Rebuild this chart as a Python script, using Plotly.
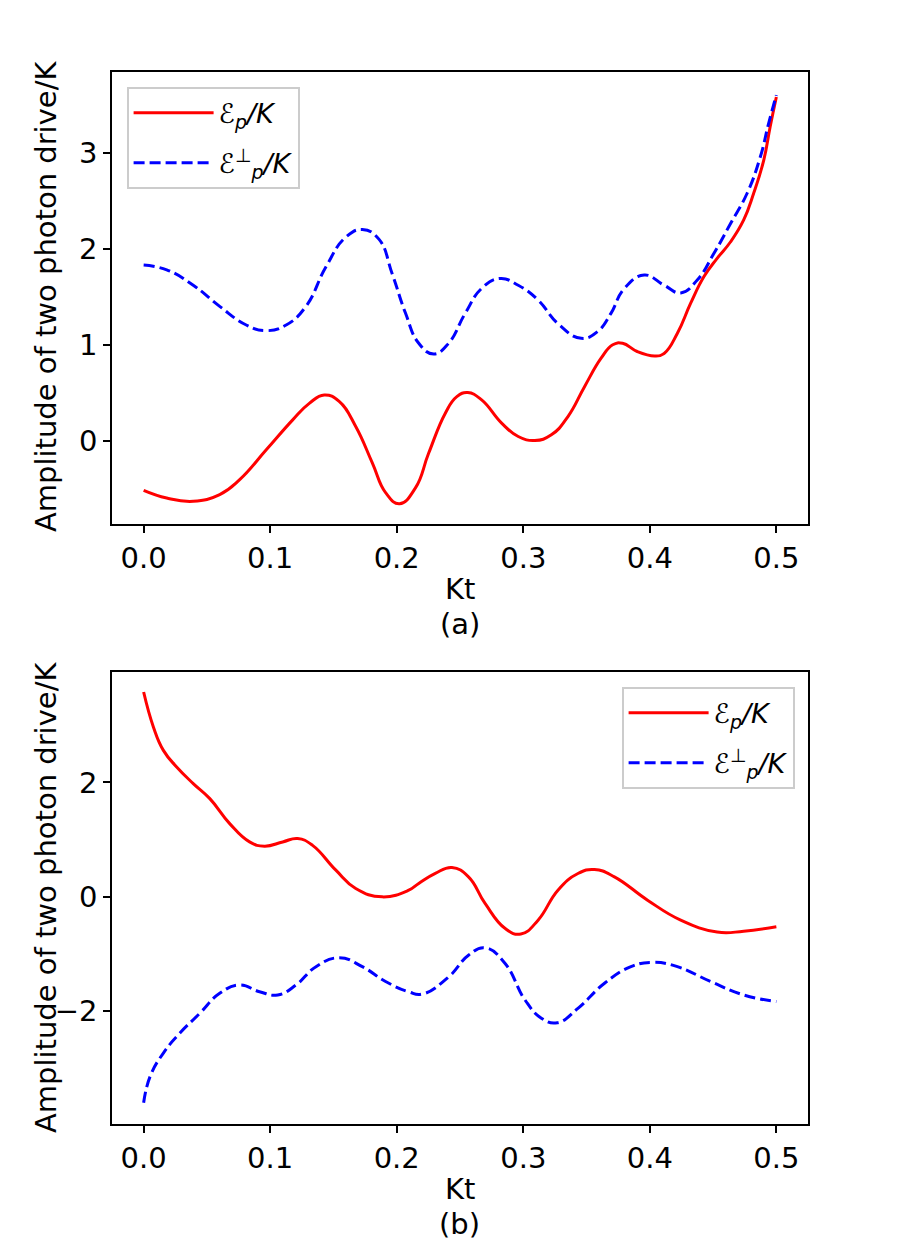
import plotly.graph_objects as go

# ---------------- data ----------------
t_a_red = [0.000, 0.0182, 0.0392, 0.0601, 0.0759, 0.0969, 0.1178, 0.1309, 0.1427, 0.1545,
           0.1676, 0.1807, 0.1912, 0.2022, 0.2148, 0.2252, 0.2384, 0.2475, 0.2561, 0.2671,
           0.2829, 0.296, 0.3091, 0.3222, 0.3353, 0.3484, 0.3615, 0.3707, 0.3785, 0.390,
           0.4039, 0.4113, 0.4218, 0.4322, 0.4428, 0.4532, 0.4637, 0.4742, 0.482, 0.490,
           0.4951, 0.500]
a_red = [-0.516, -0.596, -0.63, -0.56, -0.405, -0.094, 0.218, 0.39, 0.478, 0.41,
         0.149, -0.23, -0.54, -0.655, -0.49, -0.13, 0.288, 0.46, 0.502, 0.426,
         0.184, 0.045, 0.003, 0.062, 0.253, 0.564, 0.86, 1.0, 1.015, 0.93,
         0.884, 0.91, 1.12, 1.43, 1.71, 1.90, 2.07, 2.30, 2.575, 2.92,
         3.27, 3.58]

t_a_blue = [0.000, 0.0182, 0.0392, 0.0601, 0.0811, 0.0969, 0.1126, 0.1283, 0.144, 0.1597,
            0.1728, 0.1859, 0.1964, 0.2069, 0.2174, 0.2292, 0.241, 0.2541, 0.2671, 0.2816,
            0.296, 0.3117, 0.3274, 0.3458, 0.3589, 0.3693, 0.3795, 0.3956, 0.4113, 0.4244,
            0.4375, 0.4506, 0.4637, 0.4768, 0.4873, 0.4938, 0.500]
a_blue = [1.83, 1.78, 1.62, 1.40, 1.206, 1.147, 1.206, 1.40, 1.81, 2.12,
          2.20, 2.10, 1.74, 1.33, 1.016, 0.904, 1.016, 1.327, 1.587, 1.69,
          1.62, 1.466, 1.22, 1.067, 1.14, 1.327, 1.58, 1.726, 1.62, 1.54,
          1.674, 1.95, 2.26, 2.575, 2.955, 3.30, 3.60]

t_b_red = [0.000, 0.0077, 0.0156, 0.0261, 0.0392, 0.0523, 0.068, 0.0837, 0.0955, 0.1099,
           0.1217, 0.1335, 0.1519, 0.1676, 0.1885, 0.2095, 0.2174, 0.2305, 0.2436, 0.2567,
           0.2698, 0.2855, 0.2981, 0.3117, 0.3274, 0.3432, 0.3563, 0.372, 0.3982, 0.4244,
           0.4532, 0.4742, 0.500]
b_red = [3.58, 2.97, 2.56, 2.27, 1.98, 1.717, 1.28, 0.96, 0.885, 0.96,
         1.02, 0.90, 0.466, 0.147, 0.0, 0.117, 0.234, 0.41, 0.513, 0.35,
         -0.116, -0.55, -0.651, -0.407, 0.117, 0.408, 0.478, 0.35, -0.058, -0.407,
         -0.616, -0.60, -0.524]

t_b_blue = [0.000, 0.0051, 0.0156, 0.0287, 0.0444, 0.0601, 0.0759, 0.0916, 0.106, 0.1204,
            0.1362, 0.1545, 0.1728, 0.1912, 0.2095, 0.220, 0.241, 0.2567, 0.2698, 0.2855,
            0.3013, 0.3143, 0.3269, 0.3432, 0.3642, 0.3851, 0.4021, 0.4218, 0.448, 0.4742,
            0.500]
b_blue = [-3.60, -3.14, -2.73, -2.38, -2.035, -1.686, -1.54, -1.658, -1.715, -1.54,
          -1.22, -1.065, -1.22, -1.48, -1.66, -1.70, -1.40, -1.02, -0.89, -1.16,
          -1.80, -2.12, -2.20, -1.95, -1.51, -1.22, -1.145, -1.22, -1.48, -1.715,
          -1.83]

x_ticks = [0.0, 0.1, 0.2, 0.3, 0.4, 0.5]
x_ticklabels = ["0.0", "0.1", "0.2", "0.3", "0.4", "0.5"]
ya_ticks = [0, 1, 2, 3]
ya_ticklabels = ["0", "1", "2", "3"]
yb_ticks = [-2, 0, 2]
yb_ticklabels = ["\u22122", "0", "2"]

label_red = "<i>\u2130<sub>p</sub>/K</i>"
label_blue = "<i>\u2130<sup>\u22a5</sup><sub>p</sub>/K</i>"
ytitle = "Amplitude of two photon drive/K"
xtitle = "Kt"

# ---------------- figure ----------------
W, H = 900, 1250
FONT = "DejaVu Sans"
FS = 29
LFS = 27
RED = "#ff0000"
BLUE = "#0000ff"
LW = 3
DASH = "11px,5px"
SPL = dict(shape="spline", smoothing=1.3)

fig = go.Figure()
fig.add_trace(go.Scatter(x=t_a_red, y=a_red, mode="lines", name=label_red,
                         line=dict(color=RED, width=LW, **SPL), legendgroup="r1",
                         xaxis="x", yaxis="y", legend="legend"))
fig.add_trace(go.Scatter(x=t_a_blue, y=a_blue, mode="lines", name=label_blue,
                         line=dict(color=BLUE, width=LW, dash=DASH, **SPL), legendgroup="b1",
                         xaxis="x", yaxis="y", legend="legend"))
fig.add_trace(go.Scatter(x=t_b_red, y=b_red, mode="lines", name=label_red,
                         line=dict(color=RED, width=LW, **SPL), legendgroup="r2",
                         xaxis="x2", yaxis="y2", legend="legend2"))
fig.add_trace(go.Scatter(x=t_b_blue, y=b_blue, mode="lines", name=label_blue,
                         line=dict(color=BLUE, width=LW, dash=DASH, **SPL), legendgroup="b2",
                         xaxis="x2", yaxis="y2", legend="legend2"))

xdom = [112 / W, 808 / W]
ydom_a = [1 - 524 / H, 1 - 72 / H]
ydom_b = [1 - 1124 / H, 1 - 672 / H]

axis_common = dict(showline=True, linecolor="black", linewidth=1.6, mirror=True,
                   ticks="outside", ticklen=7, tickwidth=1.6, tickcolor="black",
                   showgrid=False, zeroline=False, automargin=False,
                   tickfont=dict(family=FONT, size=FS, color="black"))

legend_common = dict(xref="paper", yref="paper",
                     bgcolor="rgba(255,255,255,0.8)", bordercolor="#cccccc", borderwidth=1.6,
                     font=dict(family=FONT, size=LFS, color="black"), itemwidth=80,
                     tracegroupgap=12)

fig.update_layout(
    width=W, height=H,
    margin=dict(l=0, r=0, t=0, b=0, autoexpand=False),
    paper_bgcolor="white", plot_bgcolor="white",
    font=dict(family=FONT, size=FS, color="black"),
    xaxis=dict(domain=xdom, range=[-0.025, 0.525], anchor="y",
               tickvals=x_ticks, ticktext=x_ticklabels, **axis_common),
    yaxis=dict(domain=ydom_a, range=[-0.866, 3.84], anchor="x",
               tickvals=ya_ticks, ticktext=ya_ticklabels, **axis_common),
    xaxis2=dict(domain=xdom, range=[-0.025, 0.525], anchor="y2",
                tickvals=x_ticks, ticktext=x_ticklabels, **axis_common),
    yaxis2=dict(domain=ydom_b, range=[-3.97, 3.93], anchor="x2",
                tickvals=yb_ticks, ticktext=yb_ticklabels, **axis_common),
    legend=dict(x=127 / W, y=1 - 87 / H, xanchor="left", yanchor="top", **legend_common),
    legend2=dict(x=795 / W, y=1 - 687 / H, xanchor="right", yanchor="top", **legend_common),
    showlegend=True,
)

annots = [
    dict(text=ytitle, x=46 / W, y=1 - 297 / H, textangle=-90),
    dict(text=ytitle, x=46 / W, y=1 - 898 / H, textangle=-90),
    dict(text=xtitle, x=460 / W, y=1 - 589 / H),
    dict(text="(a)", x=460 / W, y=1 - 624 / H),
    dict(text=xtitle, x=460 / W, y=1 - 1189 / H),
    dict(text="(b)", x=460 / W, y=1 - 1224 / H),
]
for a in annots:
    fig.add_annotation(xref="paper", yref="paper", showarrow=False,
                       xanchor="center", yanchor="middle",
                       font=dict(family=FONT, size=FS, color="black"), **a)

fig.write_html("out.html")
